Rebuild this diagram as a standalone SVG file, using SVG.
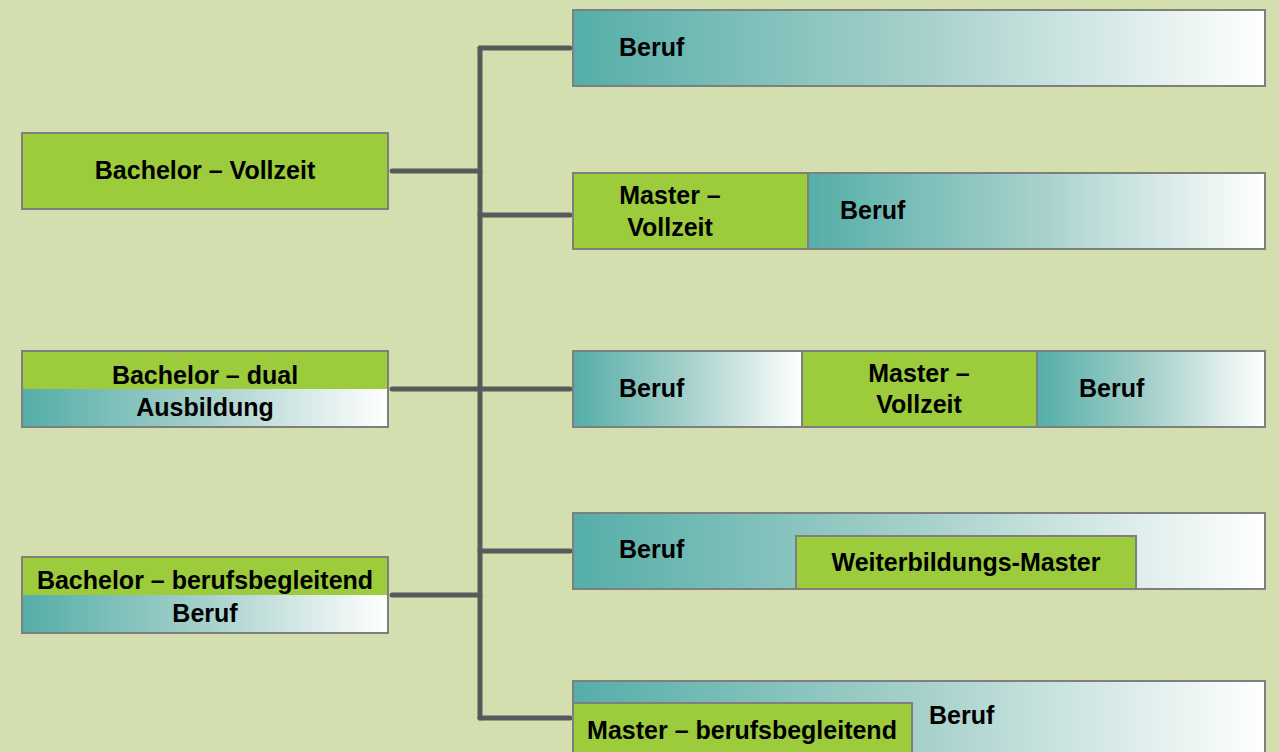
<svg xmlns="http://www.w3.org/2000/svg" width="1279" height="752" viewBox="0 0 1279 752">
<defs>
<linearGradient id="teal" x1="0" y1="0" x2="1" y2="0">
<stop offset="0" stop-color="#55aea8"/>
<stop offset="0.5" stop-color="#a6d0cb"/>
<stop offset="1" stop-color="#ffffff"/>
</linearGradient>
<style>
.bg{fill:#d4dfaf}
.g{fill:#9ccb3b;stroke:#7f7f7f;stroke-width:2}
.t{fill:url(#teal);stroke:#7f7f7f;stroke-width:2}
.o{fill:none;stroke:#7f7f7f;stroke-width:2}
.c{fill:none;stroke:#58595b;stroke-width:5;stroke-linecap:round;stroke-linejoin:round}
text{font-family:"Liberation Sans",Arial,sans-serif;font-weight:bold;font-size:25px;fill:#000}
.m{text-anchor:middle}
</style>
</defs>
<rect class="bg" x="0" y="0" width="1279" height="752"/>

<g id="connectors">
<path class="c" d="M480,48 V718"/>
<path class="c" d="M392,171 H480"/>
<path class="c" d="M392,389 H480"/>
<path class="c" d="M392,595 H480"/>
<path class="c" d="M480,48 H570"/>
<path class="c" d="M480,215 H570"/>
<path class="c" d="M480,389 H570"/>
<path class="c" d="M480,551 H570"/>
<path class="c" d="M480,718 H570"/>
</g>

<g id="bachelor-vollzeit">
<rect class="g" x="22" y="133" width="366" height="76"/>
<text class="m" x="205" y="179">Bachelor – Vollzeit</text>
</g>

<g id="bachelor-dual">
<rect class="g" x="22" y="351" width="366" height="38" style="stroke:none"/>
<rect class="t" x="22" y="389" width="366" height="38" style="stroke:none"/>
<rect class="o" x="22" y="351" width="366" height="76"/>
<text class="m" x="205" y="384">Bachelor – dual</text>
<text class="m" x="205" y="416">Ausbildung</text>
</g>

<g id="bachelor-berufsbegleitend">
<rect class="g" x="22" y="557" width="366" height="38" style="stroke:none"/>
<rect class="t" x="22" y="595" width="366" height="38" style="stroke:none"/>
<rect class="o" x="22" y="557" width="366" height="76"/>
<text class="m" x="205" y="589">Bachelor – berufsbegleitend</text>
<text class="m" x="205" y="622">Beruf</text>
</g>

<g id="path-beruf">
<rect class="t" x="573" y="10" width="692" height="76"/>
<text x="619" y="56">Beruf</text>
</g>

<g id="path-master-vollzeit">
<rect class="g" x="573" y="173" width="235" height="76"/>
<rect class="t" x="808" y="173" width="457" height="76"/>
<text class="m" x="670" y="204">Master –</text>
<text class="m" x="670" y="236">Vollzeit</text>
<text x="840" y="219">Beruf</text>
</g>

<g id="path-beruf-master-beruf">
<rect class="t" x="573" y="351" width="229" height="76"/>
<rect class="g" x="802" y="351" width="235" height="76"/>
<rect class="t" x="1037" y="351" width="228" height="76"/>
<text x="619" y="397">Beruf</text>
<text class="m" x="919" y="382">Master –</text>
<text class="m" x="919" y="413">Vollzeit</text>
<text x="1079" y="397">Beruf</text>
</g>

<g id="path-weiterbildung">
<rect class="t" x="573" y="513" width="692" height="76"/>
<rect class="g" x="796" y="536" width="340" height="53"/>
<text x="619" y="558">Beruf</text>
<text class="m" x="966" y="571">Weiterbildungs-Master</text>
</g>

<g id="path-master-berufsbegleitend">
<rect class="t" x="573" y="681" width="692" height="80"/>
<rect class="g" x="573" y="703" width="339" height="58"/>
<text x="929" y="724">Beruf</text>
<text class="m" x="742" y="739">Master – berufsbegleitend</text>
</g>
</svg>
